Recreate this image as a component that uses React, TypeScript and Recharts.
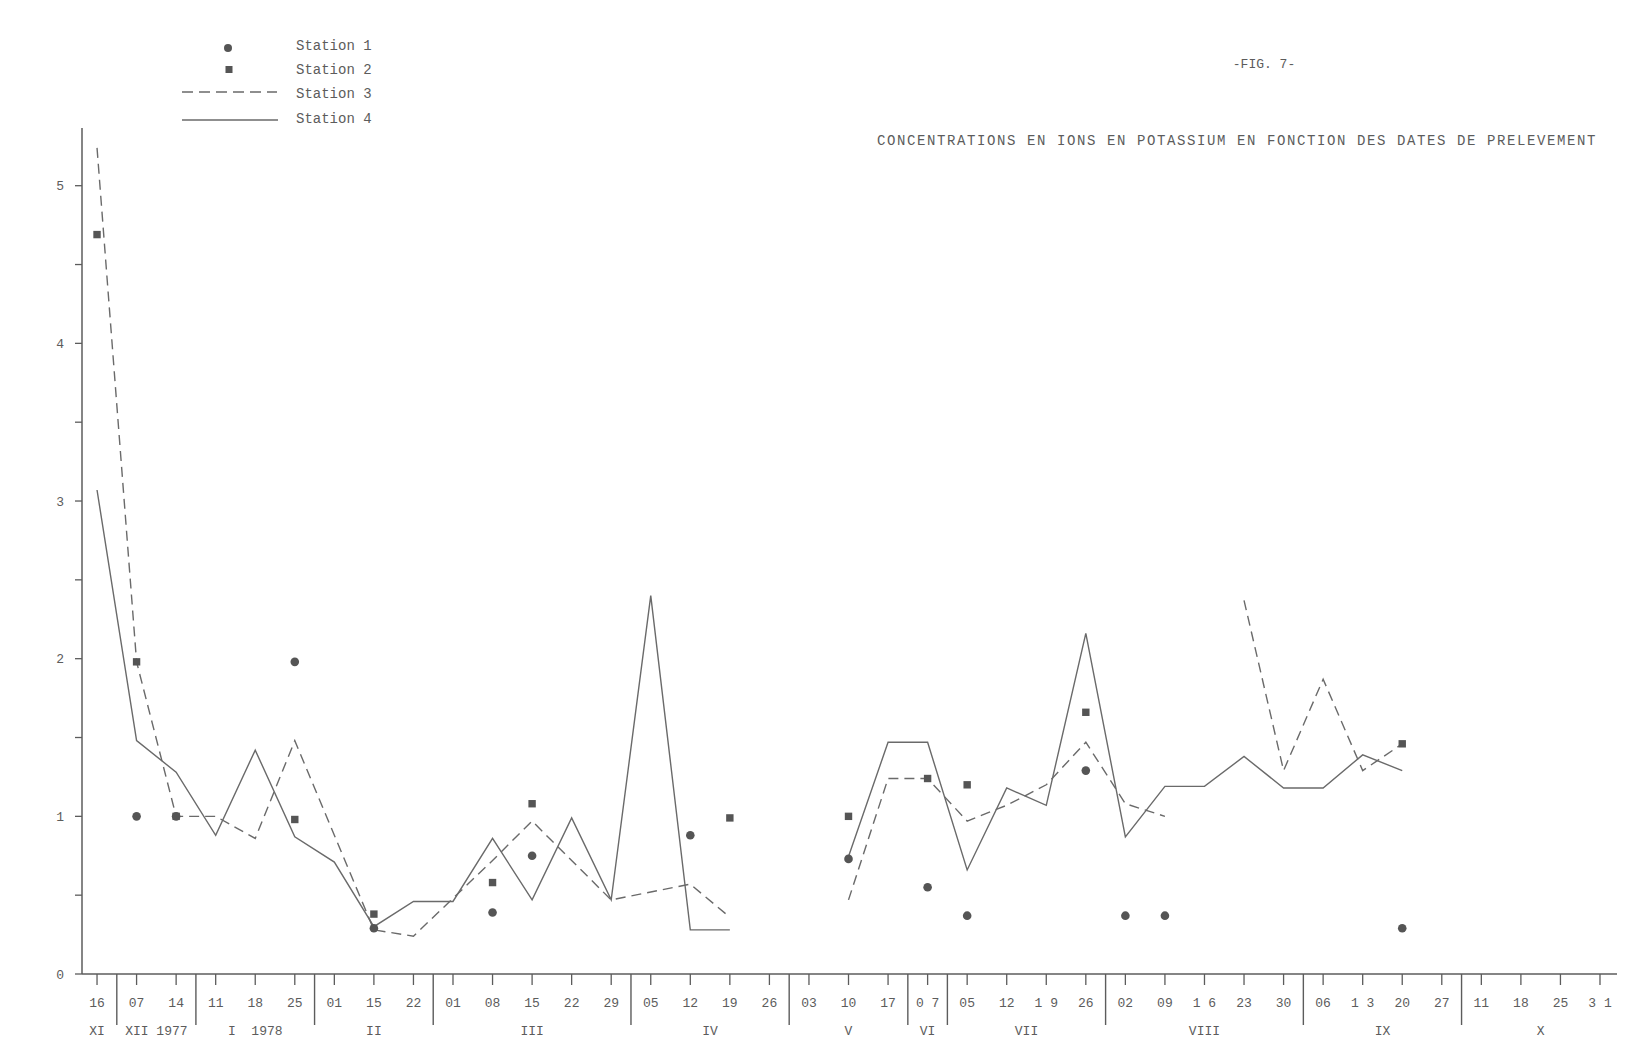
import React from 'react';
import { ComposedChart, Line, Scatter, XAxis, YAxis } from 'recharts';

// sampling dates (one category per sample), month groups below
const days = [
  '16', '07', '14', '11', '18', '25', '01', '15', '22', '01',
  '08', '15', '22', '29', '05', '12', '19', '26', '03', '10',
  '17', '0 7', '05', '12', '1 9', '26', '02', '09', '1 6', '23',
  '30', '06', '1 3', '20', '27', '11', '18', '25', '3 1',
];

const months = [
  { label: 'XI', from: 0, to: 0 },
  { label: 'XII 1977', from: 1, to: 2 },
  { label: 'I  1978', from: 3, to: 5 },
  { label: 'II', from: 6, to: 8 },
  { label: 'III', from: 9, to: 13 },
  { label: 'IV', from: 14, to: 17 },
  { label: 'V', from: 18, to: 20 },
  { label: 'VI', from: 21, to: 21 },
  { label: 'VII', from: 22, to: 25 },
  { label: 'VIII', from: 26, to: 30 },
  { label: 'IX', from: 31, to: 34 },
  { label: 'X', from: 35, to: 38 },
];

// K+ concentrations
const station1 = [
  null, 1.0, 1.0, null, null, 1.98, null, 0.29, null, null,
  0.39, 0.75, null, null, null, 0.88, null, null, null, 0.73,
  null, 0.55, 0.37, null, null, 1.29, 0.37, 0.37, null, null,
  null, null, null, 0.29, null, null, null, null, null,
];
const station2 = [
  4.69, 1.98, 1.0, null, null, 0.98, null, 0.38, null, null,
  0.58, 1.08, null, null, null, null, 0.99, null, null, 1.0,
  null, 1.24, 1.2, null, null, 1.66, null, null, null, null,
  null, null, null, 1.46, null, null, null, null, null,
];
const station3 = [
  5.24, 1.98, 1.0, 1.0, 0.86, 1.48, 0.88, 0.28, 0.24, 0.48,
  0.72, 0.97, 0.72, 0.47, 0.52, 0.57, 0.36, null, null, 0.47,
  1.24, 1.24, 0.97, 1.07, 1.2, 1.47, 1.08, 1.0, null, 2.37,
  1.29, 1.87, 1.29, 1.46, null, null, null, null, null,
];
const station4 = [
  3.07, 1.48, 1.28, 0.88, 1.42, 0.87, 0.71, 0.3, 0.46, 0.46,
  0.86, 0.47, 0.99, 0.47, 2.4, 0.28, 0.28, null, null, 0.745,
  1.47, 1.47, 0.66, 1.18, 1.07, 2.16, 0.87, 1.19, 1.19, 1.38,
  1.18, 1.18, 1.39, 1.29, null, null, null, null, null,
];

const yTicks = [0, 0.5, 1, 1.5, 2, 2.5, 3, 3.5, 4, 4.5, 5];

const CHART_W = 1621;
const CHART_H = 1036;
const Y_AXIS_W = 74;
const MARGIN = { top: 120, right: 12, bottom: 0, left: 0 };
const X_MIN = -0.38;
const X_MAX = 38.43;
const STEP = (CHART_W - Y_AXIS_W - MARGIN.right) / (X_MAX - X_MIN);

const INK = '#5c5c5c';
const FONT = '"Liberation Mono", "DejaVu Sans Mono", monospace';

const rows = days.map((d, i) => ({ i, s3: station3[i], s4: station4[i] }));
const toPoints = (arr: (number | null)[]) =>
  arr.map((v, i) => ({ i, v })).filter(p => p.v != null);

const DateTick = ({ x, y, payload }: any) => {
  const i = payload.value as number;
  const month = months.find(m => m.from === i);
  return (
    <g>
      <text x={x} y={y + 22} textAnchor="middle" fontFamily={FONT} fontSize={13} fill={INK}>
        {days[i]}
      </text>
      {month && i > 0 && (
        <line x1={x - STEP / 2} x2={x - STEP / 2} y1={y - 11} y2={y + 40} stroke={INK} strokeWidth={1.4} />
      )}
      {month && (
        <text
          x={x + ((month.to - month.from) / 2) * STEP}
          y={y + 50}
          textAnchor="middle"
          fontFamily={FONT}
          fontSize={13}
          fill={INK}
          style={{ whiteSpace: 'pre' }}
        >
          {month.label}
        </text>
      )}
    </g>
  );
};

const Dot = (props: any) => <circle cx={props.cx} cy={props.cy} r={4.3} fill="#555" />;
const Sq = (props: any) => <rect x={props.cx - 3.7} y={props.cy - 3.7} width={7.4} height={7.4} fill="#555" />;

const App: React.FC = () => {
  return (
    <div style={{ position: 'relative', width: CHART_W, height: CHART_H, fontFamily: FONT }}>
      <ComposedChart width={CHART_W} height={CHART_H} data={rows} margin={MARGIN}>
        <XAxis
          dataKey="i"
          type="number"
          domain={[X_MIN, X_MAX]}
          ticks={days.map((d, i) => i)}
          interval={0}
          height={70}
          tickSize={11}
          tickMargin={0}
          tick={<DateTick />}
          axisLine={{ stroke: INK, strokeWidth: 1.5 }}
          tickLine={{ stroke: INK, strokeWidth: 1.3 }}
        />
        <YAxis
          type="number"
          domain={[0, 5.366]}
          ticks={yTicks}
          width={Y_AXIS_W}
          tickSize={7}
          tickMargin={11}
          tickFormatter={(v) => (Number.isInteger(v) ? String(v) : '')}
          tick={{ fontFamily: FONT, fontSize: 13, fill: INK }}
          axisLine={{ stroke: INK, strokeWidth: 1.5 }}
          tickLine={{ stroke: INK, strokeWidth: 1.3 }}
        />
        <Line
          type="linear"
          dataKey="s3"
          stroke="#6a6a6a"
          strokeWidth={1.4}
          strokeDasharray="10 6"
          dot={false}
          isAnimationActive={false}
        />
        <Line
          type="linear"
          dataKey="s4"
          stroke="#6a6a6a"
          strokeWidth={1.4}
          dot={false}
          isAnimationActive={false}
        />
        <Scatter data={toPoints(station2)} dataKey="v" shape={<Sq />} isAnimationActive={false} />
        <Scatter data={toPoints(station1)} dataKey="v" shape={<Dot />} isAnimationActive={false} />
      </ComposedChart>

      {/* legend */}
      <svg width={420} height={130} style={{ position: 'absolute', left: 0, top: 0 }}>
        <circle cx={220} cy={40} r={4} fill="#555" />
        <rect x={217.5} y={58} width={7} height={7} fill="#555" />
        <line x1={174} x2={269} y1={84} y2={84} stroke="#6a6a6a" strokeWidth={1.4} strokeDasharray="11 6" />
        <line x1={174} x2={270} y1={112} y2={112} stroke="#6a6a6a" strokeWidth={1.4} />
        {['Station 1', 'Station 2', 'Station 3', 'Station 4'].map((s, k) => (
          <text key={s} x={288} y={[38, 62, 86, 111][k]} dominantBaseline="central" fontFamily={FONT} fontSize={14} fill={INK}>
            {s}
          </text>
        ))}
      </svg>

      <div
        style={{
          position: 'absolute',
          left: 1256,
          top: 48,
          transform: 'translateX(-50%)',
          fontSize: 13,
          lineHeight: '18px',
          color: INK,
          whiteSpace: 'pre',
        }}
      >
        -FIG. 7-
      </div>
      <div
        style={{
          position: 'absolute',
          left: 869,
          top: 124,
          fontSize: 14,
          lineHeight: '18px',
          letterSpacing: 1.6,
          color: INK,
          whiteSpace: 'pre',
        }}
      >
        CONCENTRATIONS EN IONS EN POTASSIUM EN FONCTION DES DATES DE PRELEVEMENT
      </div>
    </div>
  );
};

export default App;
